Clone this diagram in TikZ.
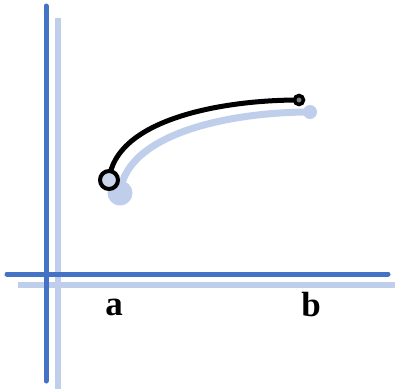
\documentclass[tikz,border=0pt]{standalone}
\usepackage{fontspec}
\setmainfont{Liberation Serif}
\definecolor{axisblue}{HTML}{4472C4}
\definecolor{shadowblue}{HTML}{BFCFEB}
\definecolor{dotfill}{HTML}{C9D5EA}
\begin{document}
\begin{tikzpicture}[x=1pt,y=-1pt,
  axis/.style={line width=5pt,axisblue,line cap=round},
  axisshadow/.style={line width=6pt,shadowblue},
  curvemain/.style={line width=5pt,black},
  curveshadow/.style={line width=7pt,shadowblue,line cap=round},
  lbl/.style={font=\fontsize{35}{40}\selectfont\bfseries,inner sep=0pt,anchor=base}]
\useasboundingbox (0,0) rectangle (395,389);
% shadows
\coordinate (vs1) at (58,18);
\coordinate (vs2) at (58,389);
\coordinate (hs1) at (18,285);
\coordinate (hs2) at (395,285);
\draw[axisshadow] (vs1) -- (vs2);
\draw[axisshadow] (hs1) -- (hs2);
% axes
\coordinate (v1) at (46,6);
\coordinate (v2) at (46,381);
\coordinate (h1) at (7,274);
\coordinate (h2) at (388,274);
\draw[axis] (v1) -- (v2);
\draw[axis] (h1) -- (h2);
% shadow curve
\coordinate (ss) at (120,193);
\coordinate (se) at (310,112);
\draw[curveshadow] (ss) .. controls (126,133) and (231,112) .. (se);
\fill[shadowblue] (ss) circle (12.5);
\fill[shadowblue] (se) circle (7);
% main curve
\coordinate (ms) at (109,180);
\coordinate (me) at (299,100);
\draw[curvemain] (ms) .. controls (115,120) and (220,100) .. (me);
\draw[line width=4pt,fill=dotfill] (ms) circle (9);
\draw[line width=3.5pt,fill=gray] (me) circle (4.5);
% labels
\node[lbl] (a) at (114,315) {a};
\node[lbl] (b) at (311,316) {b};
\end{tikzpicture}
\end{document}
